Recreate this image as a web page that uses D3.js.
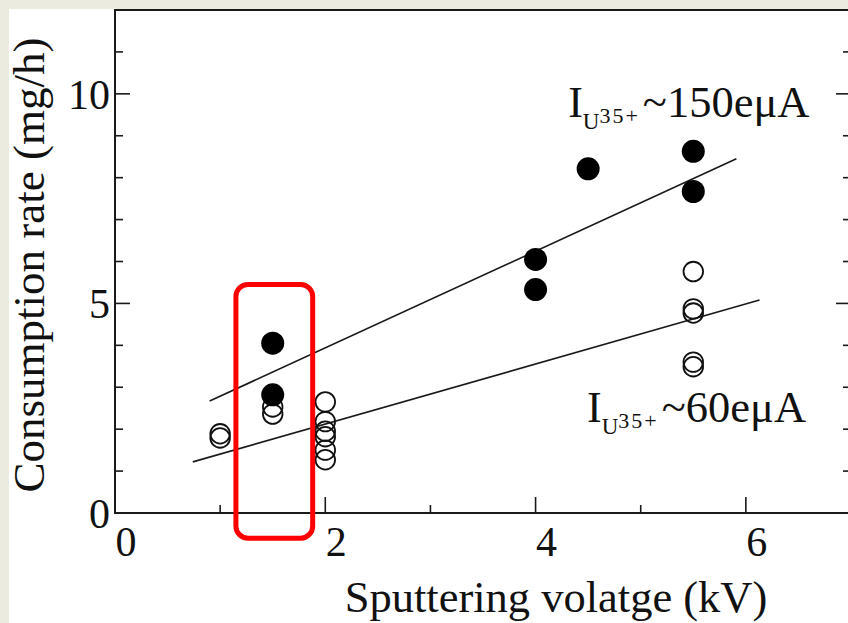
<!DOCTYPE html>
<html>
<head>
<meta charset="utf-8">
<script src="https://cdn.jsdelivr.net/npm/d3@7"></script>
<style>
  html, body { margin: 0; padding: 0; background: #ecebe0; }
  svg { display: block; }
  text { font-family: "Liberation Serif", "Times New Roman", serif; fill: #111; }
</style>
</head>
<body>
<svg id="chart" width="848" height="623"></svg>
<script>
// Consumption rate measurements at each sputtering voltage
const highCurrentX = [1.5, 1.5, 4.0, 4.0, 4.5, 5.5, 5.5];
const highCurrentY = [4.05, 2.82, 6.05, 5.33, 8.21, 8.63, 7.67];

const lowCurrentX = [1.0, 1.0, 1.5, 1.5, 2.0, 2.0, 2.0, 2.0, 2.0, 2.0, 5.5, 5.5, 5.5, 5.5, 5.5];
const lowCurrentY = [1.89, 1.79, 2.53, 2.36, 2.65, 2.18, 1.95, 1.82, 1.5, 1.27, 5.76, 4.87, 4.77, 3.6, 3.49];

// Linear trend lines (start / end points in data units)
const highFitX = [0.9, 5.91];
const highFitY = [2.67, 8.45];
const lowFitX = [0.74, 6.13];
const lowFitY = [1.22, 5.08];

// Highlighted voltage window
const highlightX = [1.15, 1.88];
const highlightY = [-0.6, 5.45];

const xTicks = [0, 2, 4, 6];
const xMinorTicks = [1, 3, 5, 7];
const yTicks = [0, 5, 10];
const yMinorTicks = [1, 2, 3, 4, 6, 7, 8, 9, 11, 12];

const xTitle = "Sputtering volatge (kV)";
const yTitle = "Consumption rate (mg/h)";
const labelHigh = "150eμA";
const labelLow = "60eμA";

const svg = d3.select("#chart");

// white page area inside the tinted margin
svg.append("rect").attr("x", 9).attr("y", 9).attr("width", 848).attr("height", 623).attr("fill", "#fff");

const x = d3.scaleLinear().domain([0, 7]).range([115, 851]);
const y = d3.scaleLinear().domain([0, 12]).range([513, 10]);

const axisColor = "#1a1a1a";
const frame = svg.append("g");
frame.append("rect")
  .attr("x", x(0)).attr("y", y(12))
  .attr("width", x(7) - x(0)).attr("height", y(0) - y(12))
  .attr("fill", "none").attr("stroke", axisColor).attr("stroke-width", 2);

// inward ticks, major and minor
function tickMarks(g, scale, values, len, orient) {
  g.selectAll(null).data(values).enter().append("line")
    .attr("stroke", axisColor).attr("stroke-width", 1.6)
    .each(function(d) {
      const s = d3.select(this);
      if (orient === "bottom") s.attr("x1", scale(d)).attr("x2", scale(d)).attr("y1", y(0)).attr("y2", y(0) - len);
      if (orient === "left") s.attr("y1", scale(d)).attr("y2", scale(d)).attr("x1", x(0)).attr("x2", x(0) + len);
      if (orient === "right") s.attr("y1", scale(d)).attr("y2", scale(d)).attr("x1", x(7)).attr("x2", x(7) - len);
    });
}
tickMarks(frame, x, xTicks.filter(d => d > 0), 16, "bottom");
tickMarks(frame, x, xMinorTicks, 8, "bottom");
tickMarks(frame, y, yTicks.filter(d => d > 0), 15, "left");
tickMarks(frame, y, yMinorTicks, 8, "left");
tickMarks(frame, y, yTicks.filter(d => d > 0), 15, "right");
tickMarks(frame, y, yMinorTicks, 8, "right");

// tick labels
svg.append("g").selectAll("text").data(xTicks).enter().append("text")
  .attr("x", d => x(d) + 11).attr("y", 556)
  .attr("text-anchor", "middle").attr("font-size", 42)
  .text(d => d);
svg.append("g").selectAll("text").data(yTicks).enter().append("text")
  .attr("x", 110).attr("y", d => y(d) + 15)
  .attr("text-anchor", "end").attr("font-size", 42)
  .text(d => d);

// axis titles
svg.append("text").attr("x", 556).attr("y", 612)
  .attr("text-anchor", "middle").attr("font-size", 44.5).text(xTitle);
svg.append("text").attr("transform", "translate(44,265) rotate(-90)")
  .attr("text-anchor", "middle").attr("font-size", 45).text(yTitle);

// trend lines
const lineGen = d3.line().x(d => x(d[0])).y(d => y(d[1]));
[[highFitX, highFitY], [lowFitX, lowFitY]].forEach(([fx, fy]) => {
  svg.append("path")
    .attr("d", lineGen(d3.zip(fx, fy)))
    .attr("fill", "none").attr("stroke", "#1a1a1a").attr("stroke-width", 1.6);
});

// open markers
svg.append("g").selectAll("circle").data(d3.zip(lowCurrentX, lowCurrentY)).enter().append("circle")
  .attr("cx", d => x(d[0])).attr("cy", d => y(d[1])).attr("r", 9.8)
  .attr("fill", "none").attr("stroke", "#111").attr("stroke-width", 1.8);

// filled markers
svg.append("g").selectAll("circle").data(d3.zip(highCurrentX, highCurrentY)).enter().append("circle")
  .attr("cx", d => x(d[0])).attr("cy", d => y(d[1])).attr("r", 11.5)
  .attr("fill", "#000");

// current labels: I with subscript U carrying the 35+ charge state
function currentLabel(px, py, tail) {
  const t = svg.append("text").attr("x", px).attr("y", py).attr("font-size", 44);
  t.append("tspan").text("I");
  t.append("tspan").attr("font-size", 23).attr("dy", 12).text("U");
  t.append("tspan").attr("font-size", 22).attr("dy", -6)
    .attr("letter-spacing", 2).text("35+");
  t.append("tspan").attr("font-size", 44.5).attr("dx", 3).attr("dy", -6).text("~" + tail);
}
currentLabel(x(4.31), y(9.45), labelHigh);
currentLabel(x(4.49), y(2.17), labelLow);

// highlighted window
svg.append("rect")
  .attr("x", x(highlightX[0])).attr("y", y(highlightY[1]))
  .attr("width", x(highlightX[1]) - x(highlightX[0]))
  .attr("height", y(highlightY[0]) - y(highlightY[1]))
  .attr("rx", 12).attr("ry", 12)
  .attr("fill", "none").attr("stroke", "#ff0000").attr("stroke-width", 5);
</script>
</body>
</html>
